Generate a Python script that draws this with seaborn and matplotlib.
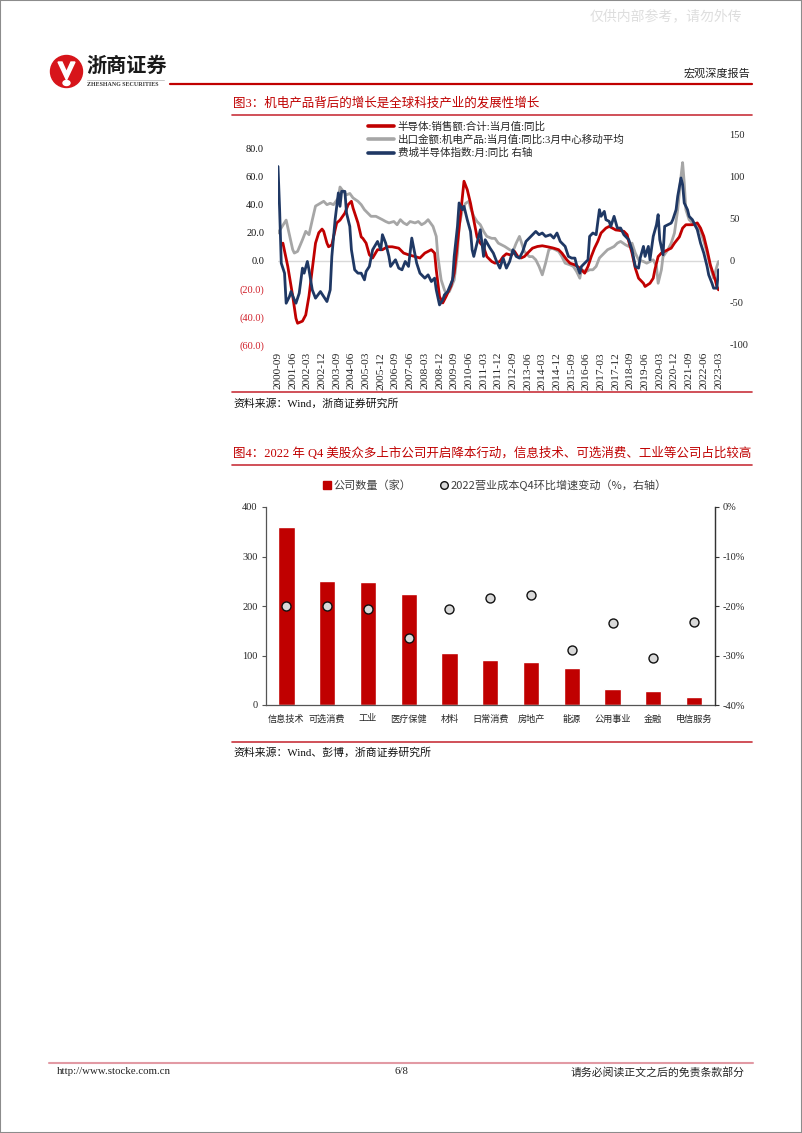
import numpy as np
import pandas as pd
import matplotlib
matplotlib.use("Agg")
import matplotlib.pyplot as plt
import seaborn as sns
from matplotlib.lines import Line2D
from matplotlib.patches import Patch, Ellipse, Rectangle, Polygon

# ---------------- data: figure 3 (months since 2000-09) ----------------
red_m = [3, 6, 9, 11, 12, 15, 17, 19, 21, 23, 25, 27, 28, 30, 31, 33, 35, 36, 38, 41,
         43, 45, 46, 49, 51, 52, 54, 56, 58, 61, 64, 67, 70, 74, 77, 80, 84, 87, 90, 94,
         96, 97, 99, 101, 103, 106, 108, 110, 112, 114, 116, 118, 120, 122, 124, 126, 128, 131, 133, 136,
         138, 140, 143, 145, 147, 149, 151, 154, 156, 159, 162, 166, 169, 172, 174, 177, 179, 182, 185, 188,
         190, 192, 194, 196, 198, 201, 203, 205, 207, 209, 212, 214, 215, 217, 219, 221, 224, 225, 228, 230,
         231, 233, 235, 237, 239, 241, 243, 246, 248, 250, 252, 254, 257, 259, 261, 263, 265, 268, 269, 270]
red_v = [12.6, -4, -25, -41, -44.5, -43, -38.6, -25, -6, 12.6, 20, 22.6, 21, 12.6, 10, 11.4, 22, 27, 29, 34,
         40, 42.4, 37.6, 27, 17, 16, 12.6, 4.3, 2, 7.9, 7.9, 10, 10, 9, 5.5, 4.3, 3, 2, 5.5, 7.9,
         5.5, -6.4, -25.5, -30, -25.5, -18, -8.8, 12.6, 34, 56.7, 50.7, 41, 29, 17, 12.6, 10, 3, -0.5, -1.7, -0.5,
         3, 5, 4, 6.7, 3, 2, 3, 6.7, 9, 10.2, 10.7, 9.8, 9, 7.9, 5.5, 0.7, -1.7, -2.9, -5.2, -8.8,
         -4, 3, 9, 13.8, 19.8, 23.3, 24.5, 23.3, 22, 21.7, 21, 18.6, 13.8, 5.5, -5.2, -12.4, -16, -18.3, -16, -12.4,
         -6.4, 3, 5.5, 6.7, 7.9, 9, 12.6, 17, 23.3, 25.7, 25.7, 25.7, 27, 23.3, 17.4, 7.9, -2.9, -13.6, -18.3, -20.7]

gray_m = [0, 5, 9, 10, 12, 15, 17, 19, 21, 23, 26, 28, 30, 32, 34, 37, 38, 40, 42, 44,
          46, 49, 51, 53, 55, 57, 60, 62, 64, 66, 68, 71, 73, 75, 77, 79, 81, 84, 86, 88,
          90, 92, 95, 97, 98, 100, 102, 103, 105, 108, 110, 111, 113, 115, 117, 118, 120, 122, 124, 126,
          128, 131, 133, 135, 137, 139, 142, 144, 146, 148, 149, 151, 154, 156, 158, 160, 162, 164, 166, 168,
          170, 172, 174, 176, 179, 181, 183, 185, 186, 189, 191, 193, 195, 197, 200, 202, 204, 206, 208, 210,
          213, 215, 217, 219, 221, 224, 226, 228, 230, 232, 233, 235, 236, 239, 241, 243, 245, 247, 248, 249,
          250, 252, 254, 256, 259, 261, 263, 265, 267, 269, 270]
gray_v = [19.8, 29, 8, 5.5, 6.7, 15, 21, 18.6, 29, 39, 41, 42.4, 40, 41, 40, 44.8, 52.6, 49.5, 47, 48,
          44.8, 42.4, 40, 36.4, 34, 31.7, 31.7, 30.5, 29.3, 28, 27, 28, 25.7, 29.3, 27, 25.7, 28, 27, 28, 25.7,
          27, 29.3, 24.5, 17.4, 3, -13.6, -20.7, -23, -22, -13.6, 5.5, 24.5, 36.4, 41, 42.4, 37.6, 31.7, 28, 25.7, 21,
          17.4, 16, 16, 12.6, 11.4, 10.2, 7.9, 6.7, 12.6, 17.4, 13.8, 6.7, 3, 3, 0.7, -4, -10, -1.7, 7.9, 9,
          7.9, 6.7, 3, -1.7, -2.9, -4, -7.6, -12.4, -6.4, -7.6, -6.4, -6.4, -4, 2, 5.5, 7.9, 9, 10.2, 12.6, 13.8,
          11.4, 10.2, 12.6, 5.5, 0.7, -0.5, -1.7, -0.5, 0.7, -4, -16, -6.4, 3, 7.9, 12.6, 19.8, 36.4, 60, 70, 55.5,
          36.4, 29.3, 27, 24.5, 21, 13.8, 5.5, -4, -12.4, -4, -0.5]

navy_m = [0, 1, 2, 4, 5, 7, 8, 10, 11, 13, 15, 16, 18, 19, 21, 23, 26, 28, 30, 32,
          33, 35, 37, 38, 39, 41, 42, 44, 45, 47, 49, 51, 53, 54, 56, 58, 61, 63, 64, 66,
          68, 69, 72, 74, 76, 78, 80, 82, 84, 85, 87, 90, 92, 94, 96, 97, 99, 101, 102, 104,
          107, 108, 110, 111, 113, 114, 116, 118, 119, 120, 122, 124, 126, 127, 130, 132, 134, 136, 138, 140,
          142, 144, 146, 148, 150, 152, 154, 156, 158, 160, 162, 164, 167, 169, 171, 173, 176, 178, 180, 182,
          183, 185, 186, 188, 190, 191, 193, 195, 197, 198, 200, 201, 203, 204, 206, 208, 210, 212, 215, 217,
          219, 221, 222, 224, 225, 227, 228, 230, 232, 233, 234, 236, 237, 239, 241, 242, 244, 245, 247, 248,
          249, 251, 252, 254, 257, 259, 261, 263, 264, 266, 267, 269, 270]
navy_v = [112, 60.7, -2.8, -14.7, -50.4, -42.5, -36.5, -46.4, -50.4, -38.5, -8.7, -14.7, -0.8, -10.7, -34.5, -44.4, -36.5, -42.5, -48.4, -34.5,
          5.2, 48.8, 80.6, 64.7, 82.5, 82.5, 56.7, 40.9, 13.1, -10.7, -14.7, -14.7, -22.6, -12.7, -6.7, 13.1, 23, 13.1, 31, 21,
          5.2, -6.7, 1.2, -8.7, -10.7, -0.8, -6.7, 27, 7.1, -2.8, -14.7, -20.6, -16.7, -24.6, -20.6, -34.5, -52.4, -46.4, -40.5, -36.5,
          -22.6, 5.2, 40.9, 68.7, 60.7, 64.7, 48.8, 34.9, 13.1, 5.2, 21, 36.9, 5.2, 25, 15, 9.1, -0.8, -8.7, 3.2, -8.7,
          -0.8, 13.1, 5.2, 3.2, 11.1, 23, 27, 31, 34.9, 31, 33, 29, 31, 27, 33, 23, 17.1, 5.2, 3.2, 3.2,
          -4.8, -14.7, -6.7, -2.8, 1.2, 29, 33, 31, 60.7, 52.8, 58.7, 48.8, 46.8, 40.9, 52.8, 38.9, 38.9, 31, 25, 13.1,
          -6.7, -8.7, 3.2, 17.1, 5.2, 17.1, 1.2, 29, 42.9, 54.8, 25, 7.1, 40.9, 42.9, 44.8, 48.8, 60.7, 76.6, 98.4, 90.5,
          68.7, 60.7, 52.8, 48.8, 36.9, 21, 9.1, -6.7, -16.7, -26.6, -32.5, -32.5, -10.7]

red_name = "半导体:销售额:合计:当月值:同比"
gray_name = "出口金额:机电产品:当月值:同比:3月中心移动平均"
navy_name = "费城半导体指数:月:同比 右轴"

x_labels = pd.period_range("2000-09", "2023-03", freq="M")[::9].strftime("%Y-%m").tolist()
left_ticks = [-60, -40, -20, 0, 20, 40, 60, 80]
right_ticks = [-100, -50, 0, 50, 100, 150]

# ---------------- data: figure 4 ----------------
sectors = ["信息技术", "可选消费", "工业", "医疗保健", "材料", "日常消费", "房地产", "能源", "公用事业", "金融", "电信服务"]
company_count = [360, 251, 249, 224, 105, 90, 86, 75, 32, 28, 16]
cost_change = [-20.0, -20.0, -20.6, -26.4, -20.6, -18.4, -17.8, -28.8, -23.4, -30.6, -23.3]
bar_name = "公司数量（家）"
dot_name = "2022营业成本Q4环比增速变动（%，右轴）"

RED = "#C00000"
GRAY = "#A6A6A6"
NAVY = "#1F3864"

sns.set_theme(style="white")
plt.rcParams["font.family"] = ["Liberation Serif", "Noto Sans CJK SC", "DejaVu Sans"]
plt.rcParams["axes.unicode_minus"] = False

W, H = 802, 1133
fig = plt.figure(figsize=(W / 100, H / 100), dpi=100)


def fx(px):
    return px / W


def fy(py):
    return 1 - py / H


def hline(x0, x1, y, color, lw):
    fig.add_artist(Line2D([fx(x0), fx(x1)], [fy(y), fy(y)], transform=fig.transFigure, color=color, lw=lw))


# ---------------- page decorations ----------------
fig.add_artist(Rectangle((0, 0), 1, 1, transform=fig.transFigure, fill=False, edgecolor="#8C8C8C", lw=1.5))
fig.text(fx(666), fy(16), "仅供内部参考，请勿外传", color="#DEDEDE", fontsize=10, ha="center", va="center",
         family=["Noto Sans CJK SC"])

# logo
fig.add_artist(Ellipse((fx(66.5), fy(71.5)), 32 / W, 32 / H, transform=fig.transFigure, color="#D7141A"))
fig.add_artist(Polygon([(fx(58), fy(62)), (fx(66.5), fy(80)), (fx(75), fy(62)), (fx(71), fy(62)),
                        (fx(66.5), fy(72)), (fx(62), fy(62))], closed=True, transform=fig.transFigure,
                       color="white"))
fig.add_artist(Ellipse((fx(66.5), fy(83)), 7 / W, 5 / H, transform=fig.transFigure, color="white"))
fig.text(fx(86), fy(65), "浙商证券", fontsize=14.5, weight="bold", ha="left", va="center",
         family=["Noto Sans CJK SC"], color="#1A1A1A")
hline(87, 164, 79.5, "#BBBBBB", 0.6)
fig.text(fx(87), fy(84), "ZHESHANG SECURITIES", fontsize=4.3, weight="bold", ha="left", va="center",
         color="#333333")
hline(170, 752, 84, RED, 1.6)
fig.text(fx(750), fy(73), "宏观深度报告", fontsize=8, ha="right", va="center", color="#222222")

# titles, rules and sources
fig.text(fx(233), fy(103), "图3：机电产品背后的增长是全球科技产业的发展性增长", fontsize=9, color=RED,
         ha="left", va="center")
hline(232, 752, 114.5, "#C8323C", 1.2)
hline(232, 752, 392, "#C8323C", 1.2)
fig.text(fx(233), fy(404), "资料来源：Wind，浙商证券研究所", fontsize=7.8, ha="left", va="center", color="#111111")

fig.text(fx(233), fy(453), "图4：2022 年 Q4 美股众多上市公司开启降本行动，信息技术、可选消费、工业等公司占比较高",
         fontsize=9, color=RED, ha="left", va="center")
hline(232, 752, 464.5, "#C8323C", 1.2)
hline(232, 752, 741.5, "#C8323C", 1.2)
fig.text(fx(233), fy(752.5), "资料来源：Wind、彭博，浙商证券研究所", fontsize=7.8, ha="left", va="center",
         color="#111111")

# footer
hline(49, 753, 1063, "#E29AA4", 1.5)
fig.text(fx(57), fy(1072), "http://www.stocke.com.cn", fontsize=7.8, ha="left", va="center", color="#222222")
fig.text(fx(401), fy(1072), "6/8", fontsize=7.8, ha="center", va="center", color="#222222")
fig.text(fx(745), fy(1072), "请务必阅读正文之后的免责条款部分", fontsize=7.8, ha="right", va="center", color="#222222")

# ---------------- figure 3: line chart with twin axis ----------------
ax1 = fig.add_axes([fx(278), fy(345), (718.5 - 278) / W, (345 - 134.5) / H])
ax1.axhline(0, color="#D9D9D9", lw=1.0, zorder=0)
sns.lineplot(x=gray_m, y=gray_v, ax=ax1, color=GRAY, lw=2.0, legend=False)
sns.lineplot(x=red_m, y=red_v, ax=ax1, color=RED, lw=2.0, legend=False)
ax1.set_xlim(0, 270)
ax1.set_ylim(-60, 90)
ax1.set_yticks(left_ticks)
ax1.set_yticklabels([f"{v:.1f}" if v >= 0 else f"({abs(v):.1f})" for v in left_ticks])
for lab, v in zip(ax1.get_yticklabels(), left_ticks):
    lab.set_color("#D0202A" if v < 0 else "#111111")
ax1.set_xticks(range(0, 271, 9))
ax1.set_xticklabels(x_labels, rotation=90)
ax1.tick_params(axis="y", length=0, labelsize=7.5, pad=10)
ax1.tick_params(axis="x", length=0, labelsize=8.2, pad=5)
for s in ax1.spines.values():
    s.set_visible(False)

ax2 = ax1.twinx()
sns.lineplot(x=navy_m, y=navy_v, ax=ax2, color=NAVY, lw=2.0, legend=False)
ax2.set_ylim(-100, 150)
ax2.set_yticks(right_ticks)
ax2.set_yticklabels([str(v) for v in right_ticks])
ax2.tick_params(axis="y", length=0, labelsize=7.5, pad=8)
for s in ax2.spines.values():
    s.set_visible(False)
ax1.set_xlabel("")
ax1.set_ylabel("")
ax2.set_ylabel("")

line_handles = [Line2D([], [], color=RED, lw=2.6), Line2D([], [], color=GRAY, lw=2.6),
                Line2D([], [], color=NAVY, lw=2.6)]
fig.legend(line_handles, [red_name, gray_name, navy_name], loc="upper left",
           bbox_to_anchor=(fx(368), fy(121.5)), frameon=False, fontsize=7.6, borderpad=0,
           borderaxespad=0, handlelength=2.5, handletextpad=0.3, labelspacing=0.27)

# ---------------- figure 4: bars + dots ----------------
ax3 = fig.add_axes([fx(266), fy(705), (714.5 - 266) / W, (705 - 507) / H])
sns.barplot(x=sectors, y=company_count, ax=ax3, color=RED, saturation=1, width=0.4)
ax3.set_ylim(0, 400)
ax3.set_yticks([0, 100, 200, 300, 400])
ax3.set_xlim(-0.5, len(sectors) - 0.5)
ax3.tick_params(axis="y", length=3, width=0.8, labelsize=7.5, pad=3, left=True, color="#555555")
ax3.tick_params(axis="x", length=0, labelsize=6.6, pad=7)
ax3.spines["top"].set_visible(False)
for k in ["left", "bottom", "right"]:
    ax3.spines[k].set_color("#555555")
    ax3.spines[k].set_linewidth(0.9)
ax3.set_xlabel("")
ax3.set_ylabel("")

ax4 = ax3.twinx()
sns.scatterplot(x=sectors, y=cost_change, ax=ax4, s=42, color="#D9D9D9", edgecolor="#111111",
                linewidth=1.0, zorder=5, legend=False)
ax4.set_ylim(-40, 0)
ax4.set_yticks([-40, -30, -20, -10, 0])
ax4.set_yticklabels([f"{v}%" for v in [-40, -30, -20, -10, 0]])
ax4.tick_params(axis="y", length=3, width=0.8, labelsize=7.5, pad=3, right=True, color="#333333")
ax4.spines["top"].set_visible(False)
ax4.spines["right"].set_color("#333333")
ax4.spines["right"].set_linewidth(0.9)
ax4.spines["left"].set_visible(False)
ax4.spines["bottom"].set_visible(False)
ax4.set_ylabel("")

bar_handles = [Patch(facecolor=RED, edgecolor=RED),
               Line2D([], [], marker="o", ls="", markerfacecolor="#D9D9D9", markeredgecolor="#111111",
                      markersize=5.5, markeredgewidth=1.0)]
leg = fig.legend(bar_handles, [bar_name, dot_name], loc="center", bbox_to_anchor=(fx(495), fy(485.5)),
                 ncol=2, frameon=False, fontsize=8, handlelength=0.7, handleheight=0.7,
                 handletextpad=0.25, columnspacing=2.6, borderpad=0)
for t in leg.get_texts():
    t.set_color("#404040")
    t.set_family(["Noto Sans CJK SC"])

fig.savefig("out.png", dpi=100)
